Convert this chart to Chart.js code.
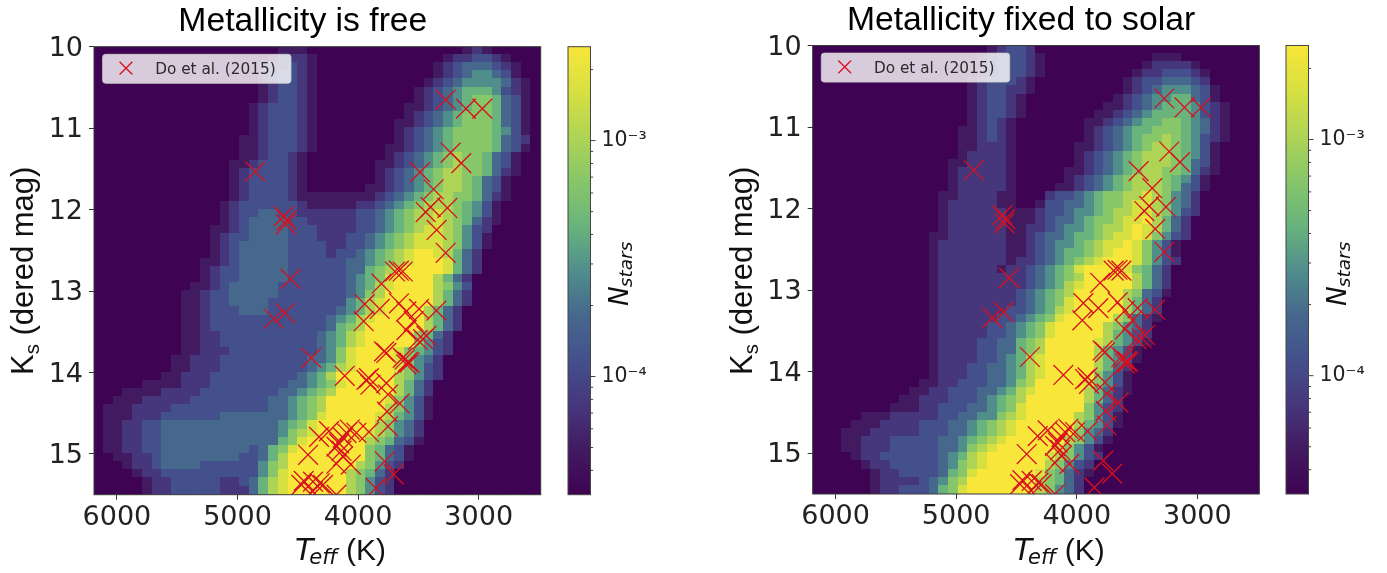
<!DOCTYPE html>
<html><head><meta charset="utf-8">
<script src="https://cdn.jsdelivr.net/npm/chart.js@4"></script>
<style>
html,body{margin:0;padding:0;background:#fff;overflow:hidden}
#wrap{position:relative;width:1387px;height:573px}
canvas{position:absolute;filter:blur(0.5px)}
</style></head><body><div id="wrap">
<canvas id="p1" width="607" height="573" style="left:0;top:0"></canvas>
<canvas id="c1" width="100" height="573" style="left:560px;top:0"></canvas>
<canvas id="p2" width="602" height="573" style="left:720px;top:0"></canvas>
<canvas id="c2" width="100" height="573" style="left:1278px;top:0"></canvas>
</div>
<script>
const titles = ["Metallicity is free", "Metallicity fixed to solar"];
const legendLabel = "Do et al. (2015)";
const teffTicks = [6000, 5000, 4000, 3000];
const ksTicks = [10, 11, 12, 13, 14, 15];
const colourbarTicks = [4e-5,5e-5,6e-5,7e-5,8e-5,9e-5,1e-4,2e-4,3e-4,4e-4,5e-4,6e-4,7e-4,8e-4,9e-4,1e-3,2e-3];
const colourbarLabels = {"0.0001":"10\u207B\u2074","0.001":"10\u207B\u00B3"};
const teffRange = [6190, 2486];
const ksRange = [10, 15.5];
const logRange = [-4.501, -2.602];
const gridCols = 46, gridRows = 55;
const levelColours = ["rgb(62,3,82)","rgb(66,26,96)","rgb(70,55,125)","rgb(67,80,140)","rgb(70,104,141)","rgb(80,142,140)","rgb(105,180,125)","rgb(135,198,105)","rgb(175,212,85)","rgb(215,224,65)","rgb(248,230,58)"];

// Catalogue stars: effective temperature (K), and dereddened Ks magnitude
const starTeff = [4854,4616,4600,4592,4561,4699,4606,4389,3274,3106,2970,3233,3144,3487,3374,3399,3440,3260,3349,3274,3630,3662,3694,3806,3945,3821,3954,3661,3495,3600,3351,3600,3539,3434,3462,3506,3785,3766,3614,3587,3573,3600,3630,4111,3910,3931,3898,3766,3752,3655,3760,3752,3910,4324,4241,4070,4097,4125,4014,4158,4180,4138,4415,4125,4180,4061,3780,3705,3854,4451,4374,4470,4291,4318,4180,4376];
const starKs = [11.53,12.08,12.18,12.13,12.85,13.34,13.27,13.82,10.65,10.76,10.76,11.30,11.43,11.54,11.75,11.97,12.03,11.98,12.25,12.53,12.76,12.75,12.76,12.91,13.16,13.22,13.37,13.15,13.22,13.25,13.24,13.48,13.37,13.55,13.59,13.60,13.74,13.76,13.84,13.87,13.88,13.90,13.82,14.04,14.07,14.09,14.15,14.13,14.27,14.38,14.48,14.66,14.73,14.79,14.72,14.70,14.74,14.80,14.74,14.87,14.91,14.96,15.01,15.03,15.12,15.13,15.09,15.25,15.42,15.33,15.34,15.38,15.38,15.36,15.50,15.46];

// Density by row (Ks) as pairs: first temperature column, then colour-scale levels in tenths (hex digit, a = top)
const freeRows = [
[19,"111",38,"121"],
[18,"12221",36,"1223321"],
[17,"122321",35,"123444321"],
[17,"123321",35,"123455431"],
[17,"123321",34,"12345555421"],
[17,"123321",33,"123456665321"],
[17,"123321",33,"123456776431"],
[16,"1233321",32,"1123456776431"],
[16,"1233321",32,"1234567776431"],
[16,"1233321",31,"11234567776431"],
[16,"1233321",31,"12345677776531"],
[15,"11233321",31,"12345677776432"],
[15,"11233321",30,"112345677776431"],
[15,"1123321",30,"12345678776431"],
[14,"11233321",29,"112345678776431"],
[14,"12333321",29,"123456788776421"],
[14,"12333321",29,"12345678876431"],
[14,"12333321",28,"112345678876431"],
[14,"12333321111111123456788776421"],
[13,"12333333"+"2111112"+"23456788876531"],
[13,"12334433"+"2222223"+"34567889876531"],
[13,"12344443"+"3222223"+"34567889876421"],
[12,"112344443"+"3322223"+"3456789987532"],
[12,"123344443"+"3322233"+"4567899987531"],
[12,"123444443"+"3332233"+"4567899987531"],
[12,"123444443"+"3332334"+"56789aa98642"],
[11,"1123444443"+"3333344"+"56789aaa9642"],
[11,"1233444443"+"3333344"+"6789aaaa9642"],
[11,"1233444443"+"3333345"+"679aaaa8642"],
[10,"11234444433"+"3333345"+"689aaaa8753"],
[9,"112334444433"+"3333345"+"78aaaaa8642"],
[9,"112334444333"+"3333356"+"89aaaaa8642"],
[9,"112333444333"+"3333456"+"89aaaa8642"],
[9,"112333333333"+"3334568"+"9aaaaa8642"],
[9,"112333333333"+"3334678"+"aaaaaa8642"],
[9,"112233333333"+"3345689"+"aaaaa7642"],
[9,"112233333333"+"3345689"+"aaaaa7532"],
[9,"112223333333"+"334579a"+"aaa976532"],
[8,"1122233333333"+"344579a"+"aaa97542"],
[8,"1122233333333"+"345689a"+"aaa97532"],
[7,"11222333333333"+"4568aaa"+"aaa87532"],
[5,"1111222333333334"+"45679aa"+"aaa8642"],
[3,"111122223333333344"+"5678aaa"+"aaa8642"],
[2,"1112222233333333445"+"678aaaa"+"aa97531"],
[1,"11122223333333333445"+"678aaaa"+"aa87531"],
[1,"11122233333344444445"+"679aaaa"+"a986531"],
[1,"112233444444444444"+"56"+"79aaaaa"+"a87542"],
[1,"112233444444444444"+"57"+"89aaaaa"+"987542"],
[1,"112233444444444444"+"67"+"9aaaaaa"+"876431"],
[1,"112233"+"444444444"+"3"+"4"+"679"+"aaaaaaa"+"76431"],
[2,"11223"+"44444444"+"33"+"468a"+"aaaaaaa"+"76431"],
[3,"1223"+"4444"+"33"+"3333"+"578a"+"aaaaaa8"+"7532"],
[4,"122"+"3"+"3333"+"33333"+"579a"+"aaaaa87"+"642"],
[5,"122"+"3333"+"3"+"22"+"34"+"689a"+"aaaaa87"+"532"],
[5,"122"+"3333"+"3"+"222"+"4"+"689a"+"aaaaa87"+"532"]
];
const solarRows = [
[18,"12332"],
[17,"1233321",35,"111"],
[17,"1233321",34,"122221"],
[17,"1233321",33,"12233321"],
[16,"1233321",32,"123344432"],
[16,"1233221",32,"1234555431"],
[16,"123321",31,"12345566431"],
[16,"123321",30,"1123456665321"],
[16,"123321",29,"11234566665321"],
[16,"12321",28,"112345667765421"],
[15,"112321",28,"123456677765421"],
[15,"112321",28,"123456778765321"],
[15,"112221",27,"112345678876531"],
[15,"122221",27,"123456788876531"],
[14,"1122221",27,"123456788876431"],
[14,"1222221",26,"1123456788776421"],
[14,"1222221",26,"123456788876531"],
[14,"1222221",25,"1123456788876431"],
[13,"11222211",24,"2334567788987542"],
[13,"12222211",23,"13344567789987542"],
[13,"12222221"+"11"+"2"+"3345567889987532"],
[13,"12222221"+"11"+"2"+"3445677899a8642"],
[13,"12222221"+"12"+"2"+"345567889a98642"],
[12,"112222221"+"12"+"3"+"445667899a97532"],
[12,"122222221"+"12"+"3"+"45567899a97531"],
[12,"122222221"+"12"+"3"+"4566789aa97531"],
[12,"122222221"+"22"+"3"+"456789aaa97532"],
[12,"122222212"+"234"+"5679aaaa97642"],
[12,"122222222"+"234"+"5678aaaaa8642"],
[12,"122222222"+"234"+"5689aaaaa8642"],
[12,"122222222"+"345"+"678aaaaa87431"],
[12,"122222222"+"345"+"679aaaaa8642"],
[12,"122222223"+"345"+"689aaaaa8642"],
[12,"122222233"+"456"+"79aaaaa87421"],
[12,"122222334"+"567"+"9aaaaa87542"],
[12,"122222334"+"567"+"9aaaaa86532"],
[12,"122223344"+"678"+"aaaaa986531"],
[12,"122223344"+"678"+"aaaaa86531"],
[12,"122223345"+"689"+"aaaaa86531"],
[12,"122233445"+"689"+"aaaaa8642"],
[12,"122233445"+"689"+"aaaaa7531"],
[11,"1122333445"+"78a"+"aaaa97531"],
[10,"11223334456"+"89a"+"aaaa86421"],
[9,"112223334567"+"8aa"+"aaaa8642"],
[8,"1112233344567"+"9aa"+"aaaa7532"],
[5,"1112222233445578"+"9aa"+"aaa87531"],
[4,"11122223334456789"+"aaa"+"aaa86531"],
[3,"111222223334456789"+"aaa"+"aaa7542"],
[3,"11222333334456789a"+"aaa"+"aa87531"],
[3,"1122233333445789aa"+"aaa"+"a97531"],
[4,"12233333345689aaa"+"aaa"+"987532"],
[5,"1223333345789aaa"+"aaa"+"87532"],
[6,"12233334679aaaa"+"aa9"+"76421"],
[6,"1222234578aaaaa"+"aa8"+"7642"],
[6,"1223334679aaaaa"+"aa8"+"7542"]
];

// one swatch per colour level, drawn by Chart.js as the point image of a heat-map cell
const swatches = levelColours.map(col => {
  const s = document.createElement('canvas'); s.width = 11; s.height = 10;
  const g = s.getContext('2d'); g.fillStyle = col; g.fillRect(0,0,11,10); return s;
});

function cells(rows){
  const out = [];
  const dT = (teffRange[0]-teffRange[1])/gridCols, dK = (ksRange[1]-ksRange[0])/gridRows;
  rows.forEach((segs,r)=>{
    const lv = new Array(gridCols).fill(0);
    for(let i=0;i<segs.length;i+=2) [...segs[i+1]].forEach((ch,k)=>{ lv[segs[i]+k]=parseInt(ch,16); });
    lv.forEach((L,c)=>out.push({x:teffRange[0]-(c+.5)*dT, y:ksRange[0]+(r+.5)*dK, level:L,
      v:Math.pow(10,logRange[0]+L/10*(logRange[1]-logRange[0]))}));
  });
  return out;
}

const SANS='"Liberation Sans", Arial, sans-serif', DJ='"DejaVu Sans", sans-serif';
const RED='#d8101e';

function runs(ctx,x,y,rot,list){
  ctx.save(); ctx.translate(x,y); ctx.rotate(rot); ctx.textBaseline='alphabetic'; ctx.textAlign='left'; ctx.fillStyle='#111';
  let p=0;
  list.forEach(r=>{ ctx.font=r.font; ctx.fillText(r.t,p+(r.dx||0),r.dy||0); p+=(r.dx||0)+ctx.measureText(r.t).width; });
  ctx.restore();
}

function panel(id,title,rows,opt){
  const framePlugin={id:'frame',
    afterDatasetsDraw(chart){
      const c=chart.ctx,a=chart.chartArea;
      c.save();
      c.strokeStyle='#3a3a3a'; c.lineWidth=1; c.strokeRect(a.left,a.top,a.right-a.left,a.bottom-a.top);
      // legend box
      const lx=a.left+8.6, ly=a.top+7.6, lw=188.4, lh=29;
      c.fillStyle='rgba(255,255,255,0.8)'; c.strokeStyle='rgba(204,204,204,0.8)';
      c.beginPath(); c.roundRect(lx,ly,lw,lh,3); c.fill(); c.stroke();
      c.strokeStyle=RED; c.lineWidth=1.3; c.beginPath();
      const mx=lx+23.4,my=ly+13.8,h=6.4;
      c.moveTo(mx-h,my-h); c.lineTo(mx+h,my+h); c.moveTo(mx-h,my+h); c.lineTo(mx+h,my-h); c.stroke();
      c.fillStyle='#2a2a2a'; c.font='15.3px '+DJ; c.textBaseline='alphabetic'; c.textAlign='left';
      c.fillText(legendLabel,lx+52.6,my+5.6);
      c.restore();
      // axis titles
      runs(c,a.left-61,375,-Math.PI/2,[{t:'K',font:'31px '+SANS},{t:'s',font:'20.5px '+SANS,dy:6},{t:' (dered mag)',font:'31px '+SANS}]);
      runs(c,a.left+201,560,0,[{t:'T',font:'italic 30px '+DJ},{t:'eff',font:'italic 21px '+DJ,dy:4,dx:-4}]);
      runs(c,a.left+252,560,0,[{t:'(K)',font:'30px '+SANS}]);
    }};
  return new Chart(document.getElementById(id),{
    type:'scatter',
    data:{datasets:[
      {label:legendLabel,data:starTeff.map((t,i)=>({x:t,y:starKs[i]})),order:0,pointStyle:'crossRot',pointRadius:14,
        pointBorderColor:RED,pointBackgroundColor:RED,pointBorderWidth:1.3,showLine:false},
      {label:'Nstars',data:cells(rows),order:1,showLine:false,pointRadius:5,pointBorderWidth:0,
        pointStyle:ctx=>swatches[ctx.raw?ctx.raw.level:0]}
    ]},
    options:{
      responsive:false,animation:false,events:[],
      layout:{padding:{right:opt.padRight,bottom:0,top:0,left:opt.padLeft}},
      plugins:{legend:{display:false},tooltip:{enabled:false},
        title:{display:true,text:title,fullSize:true,color:'#000',font:{family:SANS,size:33.7,weight:'normal',lineHeight:1.2},padding:{top:opt.top-40.44-5,bottom:5}}},
      scales:{
        x:{type:'linear',reverse:true,min:teffRange[0],max:teffRange[1],
          afterFit:s=>{s.height=573-opt.bottom;},
          afterBuildTicks:s=>{s.ticks=teffTicks.map(v=>({value:v}));},
          grid:{display:true,drawOnChartArea:false,tickLength:5,tickColor:'#333',drawTicks:true},
          border:{display:false},
          ticks:{color:'#222',font:{family:DJ,size:27},maxRotation:0,autoSkip:false,padding:2,callback:v=>String(v)}},
        y:{type:'linear',reverse:true,min:ksRange[0],max:ksRange[1],
          afterFit:s=>{s.width=opt.axisLeft-opt.padLeft; s._computeLabelArea=()=>undefined;},
          afterBuildTicks:s=>{s.ticks=ksTicks.map(v=>({value:v}));},
          grid:{display:true,drawOnChartArea:false,tickLength:5,tickColor:'#333',drawTicks:true},
          border:{display:false},
          ticks:{color:'#222',font:{family:DJ,size:27},autoSkip:false,padding:6,labelOffset:2,callback:v=>String(v)}}
      }
    },
    plugins:[framePlugin]
  });
}

function colourbar(id,top,bottom){
  const deco={id:'deco',
    beforeDatasetsDraw(chart){
      const c=chart.ctx,a=chart.chartArea;
      const g=c.createLinearGradient(0,a.bottom,0,a.top);
      levelColours.forEach((col,i)=>g.addColorStop(i/(levelColours.length-1),col));
      c.fillStyle=g; c.fillRect(a.left,a.top,a.right-a.left,a.bottom-a.top);
    },
    afterDraw(chart){
      const c=chart.ctx,a=chart.chartArea,s=chart.scales.y;
      c.save(); c.strokeStyle='#444'; c.lineWidth=1; c.strokeRect(a.left,a.top,a.right-a.left,a.bottom-a.top);
      colourbarTicks.forEach(v=>{
        const y=s.getPixelForValue(v), len=colourbarLabels[String(v)]?5:2.6;
        c.beginPath(); c.moveTo(a.right,y); c.lineTo(a.right+len,y); c.stroke();
      });
      c.restore();
      runs(c,a.right+37,306,-Math.PI/2,[{t:'N',font:'italic 26.5px '+DJ},{t:'stars',font:'italic 18.5px '+DJ,dy:4,dx:-1}]);
    }};
  return new Chart(document.getElementById(id),{
    type:'scatter',data:{datasets:[]},
    options:{
      responsive:false,animation:false,events:[],
      layout:{padding:{left:8,top:top,bottom:573-bottom,right:0}},
      plugins:{legend:{display:false},tooltip:{enabled:false},title:{display:false}},
      scales:{
        x:{type:'linear',display:false},
        y:{type:'logarithmic',position:'right',min:Math.pow(10,logRange[0]),max:Math.pow(10,logRange[1]),
          afterFit:s=>{s.width=69.5;},
          afterBuildTicks:s=>{s.ticks=colourbarTicks.map(v=>({value:v}));},
          grid:{display:false,drawTicks:false},border:{display:false},
          ticks:{color:'#222',font:{family:DJ,size:20.5},autoSkip:false,padding:11,callback:v=>colourbarLabels[String(v)]||''}}
      }
    },
    plugins:[deco]
  });
}

panel('p1',titles[0],freeRows,{axisLeft:94,padLeft:65,padRight:66.3,top:46.7,bottom:494.7});
panel('p2',titles[1],solarRows,{axisLeft:92.7,padLeft:62.7,padRight:62.7,top:45.5,bottom:494});
colourbar('c1',46.7,494.7);
colourbar('c2',45.5,494);
</script></body></html>
